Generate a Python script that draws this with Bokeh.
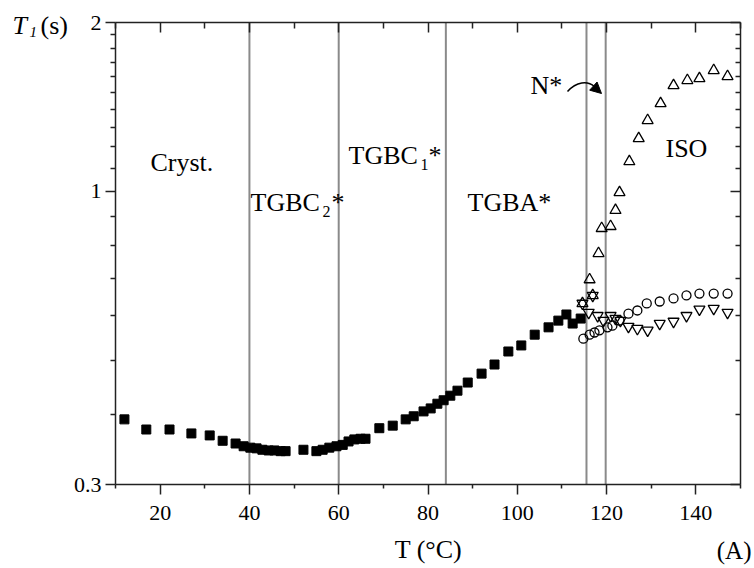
import math
from bokeh.plotting import figure
from bokeh.models import (Range1d, FixedTicker, LinearAxis, LogAxis, Label,
                          CustomJSTickFormatter, Arrow, NormalHead)
from bokeh.embed import file_html
from bokeh.resources import INLINE

# ---------------- data ----------------
sq_T = [12.0, 16.9, 22.1, 27.0, 31.1, 34.0, 36.9, 38.7, 40.2, 41.6, 42.9, 44.3, 45.6, 47.0, 48.1,
        52.1, 55.0, 56.4, 57.9, 59.5, 60.9, 62.2, 63.5, 64.9, 66.0, 69.1, 72.1, 75.0, 76.8, 79.0,
        80.6, 82.1, 83.5, 85.0, 86.6, 88.9, 92.0, 94.9, 98.0, 100.9, 103.9, 107.0, 109.2, 111.0,
        112.4, 114.2]
sq_T1 = [0.392, 0.376, 0.376, 0.370, 0.367, 0.359, 0.355, 0.351, 0.349, 0.348, 0.346, 0.345, 0.345,
         0.344, 0.344, 0.346, 0.344, 0.346, 0.349, 0.351, 0.353, 0.358, 0.361, 0.362, 0.362, 0.378,
         0.382, 0.392, 0.397, 0.405, 0.410, 0.418, 0.424, 0.432, 0.441, 0.456, 0.473, 0.491, 0.518,
         0.531, 0.555, 0.572, 0.588, 0.603, 0.581, 0.593]

up_T = [114.6, 116.2, 116.9, 118.2, 118.9, 120.9, 122.0, 122.9, 125.1, 127.2, 129.2, 132.1,
        135.0, 138.1, 140.8, 144.0, 147.1]
up_T1 = [0.631, 0.696, 0.652, 0.775, 0.859, 0.866, 0.925, 0.995, 1.130, 1.242, 1.338, 1.434,
         1.544, 1.577, 1.589, 1.643, 1.603]

circ_T = [114.8, 116.2, 117.3, 118.4, 120.2, 121.3, 122.9, 124.9, 126.9, 129.0, 131.9, 135.0,
          137.9, 140.8, 144.0, 147.1]
circ_T1 = [0.546, 0.555, 0.560, 0.565, 0.572, 0.576, 0.588, 0.605, 0.613, 0.631, 0.636, 0.644,
           0.652, 0.657, 0.657, 0.657]

down_T = [114.6, 116.9, 116.0, 118.0, 119.3, 120.9, 122.0, 123.1, 124.9, 126.9, 129.2, 131.9,
          135.0, 137.9, 140.8, 144.0, 147.1]
down_T1 = [0.631, 0.652, 0.608, 0.600, 0.588, 0.600, 0.593, 0.588, 0.574, 0.569, 0.565, 0.581,
           0.586, 0.600, 0.616, 0.618, 0.608]

transition_T = [40, 60, 84, 115.5, 119.8]

x_ticks = [20, 40, 60, 80, 100, 120, 140]
x_minor = [10, 30, 50, 70, 90, 110, 130, 150]
y_ticks = [0.3, 1, 2]
y_minor = [0.4, 0.5, 0.6, 0.7, 0.8, 0.9, 1.1, 1.2, 1.3, 1.4, 1.5, 1.6, 1.7, 1.8, 1.9]

X0, X1 = 10, 150
Y0, Y1 = 0.3, 2

# ---------------- layout ----------------
FONT = "Liberation Serif"
W, H = 754, 568
AL, AT, AR, AB = 115, 22, 740, 484   # plot box in page pixels
DY = -10                             # baseline correction for labels

def px_x(xp):
    return X0 + (xp - AL) * (X1 - X0) / (AR - AL)

def px_y(yp):
    frac = (AB - yp) / (AB - AT)
    return 10 ** (math.log10(Y0) + frac * math.log10(Y1 / Y0))

p = figure(width=W, height=H, y_axis_type="log",
           x_axis_location=None, y_axis_location=None,
           x_range=Range1d(px_x(0), px_x(W)), y_range=Range1d(px_y(H), px_y(0)),
           output_backend="svg", toolbar_location=None,
           min_border=0, min_border_left=0, min_border_right=0,
           min_border_top=0, min_border_bottom=0)
p.background_fill_color = "white"
p.border_fill_color = "white"
p.outline_line_color = None
p.grid.visible = False

xt = FixedTicker(ticks=x_ticks, minor_ticks=x_minor)
yt = FixedTicker(ticks=y_ticks, minor_ticks=y_minor)
fmt = CustomJSTickFormatter(code="return String(tick);")
blank = CustomJSTickFormatter(code="return '';")

common = dict(axis_line_width=1.5, axis_line_color="#222222",
              major_tick_line_width=1.5, minor_tick_line_width=1.5,
              major_tick_line_color="#222222", minor_tick_line_color="#222222",
              major_label_text_font=FONT, major_label_text_color="black")

bottom = LinearAxis(ticker=xt, fixed_location=Y0, bounds=(X0, X1),
                    major_tick_out=10, major_tick_in=0, minor_tick_out=4, minor_tick_in=0,
                    major_label_standoff=11, major_label_text_font_size="22px", **common)
left = LogAxis(ticker=yt, formatter=fmt, fixed_location=X0, bounds=(Y0, Y1),
               major_tick_out=10, major_tick_in=0, minor_tick_out=5, minor_tick_in=0,
               major_label_standoff=4, major_label_text_font_size="22px", **common)
top = LinearAxis(ticker=xt, formatter=blank, fixed_location=Y1, bounds=(X0, X1),
                 major_tick_in=10, major_tick_out=0, minor_tick_in=6, minor_tick_out=0,
                 major_label_standoff=0, major_label_text_font_size="0px", **common)
right = LogAxis(ticker=yt, formatter=blank, fixed_location=X1, bounds=(Y0, Y1),
                major_tick_in=10, major_tick_out=0, minor_tick_in=5, minor_tick_out=0,
                major_label_standoff=0, major_label_text_font_size="0px", **common)
p.add_layout(bottom, "below")
p.add_layout(left, "left")
p.add_layout(top, "above")
p.add_layout(right, "right")

# phase boundaries
p.segment(x0=transition_T, x1=transition_T, y0=[Y0] * len(transition_T),
          y1=[Y1] * len(transition_T), line_color="#8a8a8a", line_width=2)

# ---------------- data marks ----------------
p.scatter(sq_T, sq_T1, marker="square", size=9, fill_color="black", line_color="black")
p.scatter(circ_T, circ_T1, marker="circle", size=9, fill_color=None, line_color="black",
          line_width=1.3)
p.scatter(down_T, down_T1, marker="inverted_triangle", size=11, fill_color=None,
          line_color="black", line_width=1.3)
p.scatter(up_T, up_T1, marker="triangle", size=11, fill_color=None, line_color="black",
          line_width=1.3)

# ---------------- texts ----------------
def lab(xp, yp, text, size="26px", style="normal", align="left"):
    p.add_layout(Label(x=px_x(xp), y=px_y(yp + DY), text=text, text_font=FONT,
                       text_font_size=size, text_font_style=style, text_color="black",
                       text_align=align, text_baseline="alphabetic"))

lab(150, 172, "Cryst.")
lab(250, 212, "TGBC")
lab(322, 221, "2", size="16px")
lab(331, 212, "*")
lab(348, 165, "TGBC")
lab(420, 174, "1", size="16px")
lab(428, 165, "*")
lab(467, 212, "TGBA*")
lab(665, 158, "ISO")
lab(530, 95, "N*")

lab(12, 35, "T", size="26px", style="italic")
lab(29, 41, "1", size="15px", style="italic")
lab(40, 35, "(s)")

lab(428, 559, "T (°C)", align="center")
lab(751, 560, "(A)", size="25px", align="right")

# N* arrow
p.bezier(x0=[px_x(567)], y0=[px_y(91)], x1=[px_x(594)], y1=[px_y(86)],
         cx0=[px_x(576)], cy0=[px_y(81)], cx1=[px_x(587)], cy1=[px_y(80)],
         line_color="black", line_width=1.5)
p.add_layout(Arrow(x_start=px_x(590), y_start=px_y(83), x_end=px_x(601), y_end=px_y(93),
                   line_alpha=0,
                   end=NormalHead(size=11, fill_color="black", line_color="black")))

open("out.html", "w").write(file_html(p, INLINE))
